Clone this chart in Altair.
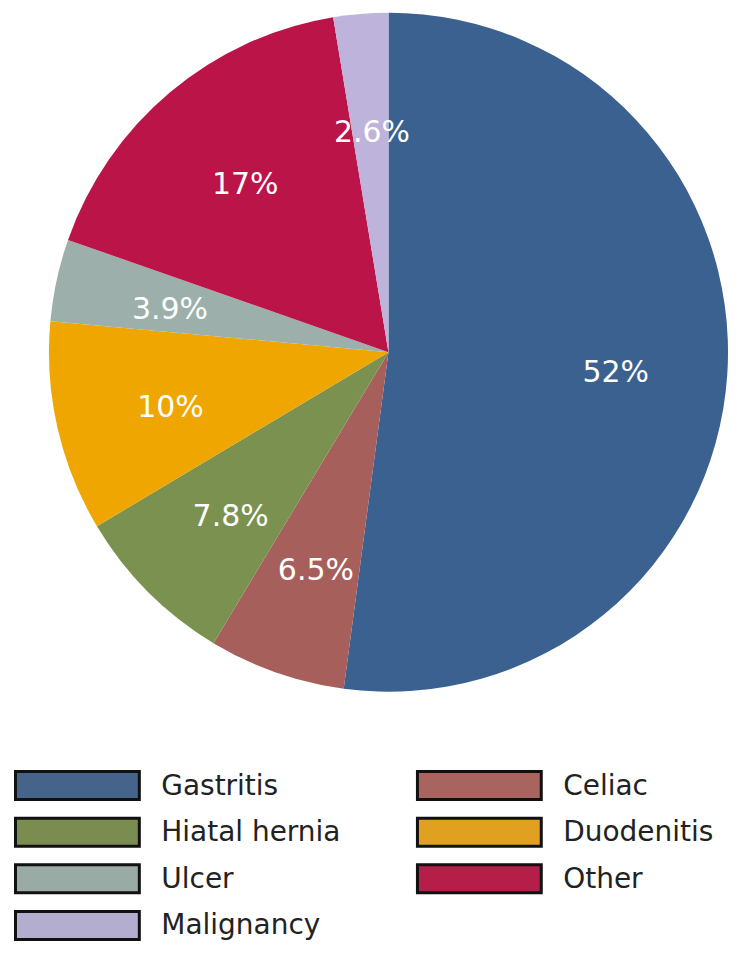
import altair as alt
import pandas as pd

categories = ["Gastritis", "Celiac", "Hiatal hernia", "Duodenitis", "Ulcer", "Other", "Malignancy"]
values = [52, 6.5, 7.8, 10, 3.9, 17, 2.6]
labels = ["52%", "6.5%", "7.8%", "10%", "3.9%", "17%", "2.6%"]
colors = ["#3a6190", "#a75f5b", "#7a9150", "#efa600", "#9cafab", "#bb1448", "#bdb3db"]
legend_colors = ["#46648a", "#a8645f", "#7b8c50", "#e0a020", "#9aaaa4", "#b41e48", "#b3aed0"]

df = pd.DataFrame({
    "cat": categories,
    "val": values,
    "lab": labels,
    "idx": list(range(len(categories))),
    "lcol": legend_colors,
})

FONT = "DejaVu Sans"

base = alt.Chart(df).encode(
    theta=alt.Theta("val:Q", stack=True),
    order=alt.Order("idx:Q"),
)

pie = base.mark_arc(outerRadius=340).encode(
    color=alt.Color("cat:N", scale=alt.Scale(domain=categories, range=colors), sort=categories, legend=None)
)

pie_text = base.mark_text(radius=226, dx=2, dy=6, font=FONT, fontSize=30, color="white").encode(
    text="lab:N"
)

leg = alt.Chart(df).transform_calculate(
    col="datum.idx % 2",
    row="floor(datum.idx / 2)",
).encode(
    x=alt.X("col:Q", scale=alt.Scale(domain=[0, 1], range=[38.5, 441]), axis=None),
    y=alt.Y("row:Q", scale=alt.Scale(domain=[0, 3], range=[778, 918]), axis=None),
)

swatches = leg.mark_point(
    shape="M-1,-0.226H1V0.226H-1Z",
    size=15376,
    filled=True,
    opacity=1,
    stroke="#111111",
    strokeWidth=3,
).encode(fill=alt.Fill("lcol:N", scale=None))

leg_text = leg.mark_text(
    align="left", baseline="middle", dx=84, dy=1, font=FONT, fontSize=28, color="#222222"
).encode(text="cat:N")

chart = (
    alt.layer(pie, pie_text, swatches, leg_text)
    .properties(
        width=700,
        height=688,
        padding={"left": 31, "top": 0, "right": 0, "bottom": 252},
        autosize=alt.AutoSizeParams(type="none"),
    )
    .configure_view(stroke=None)
)

chart.save("out.html", embed_options={"renderer": "svg", "actions": False})
